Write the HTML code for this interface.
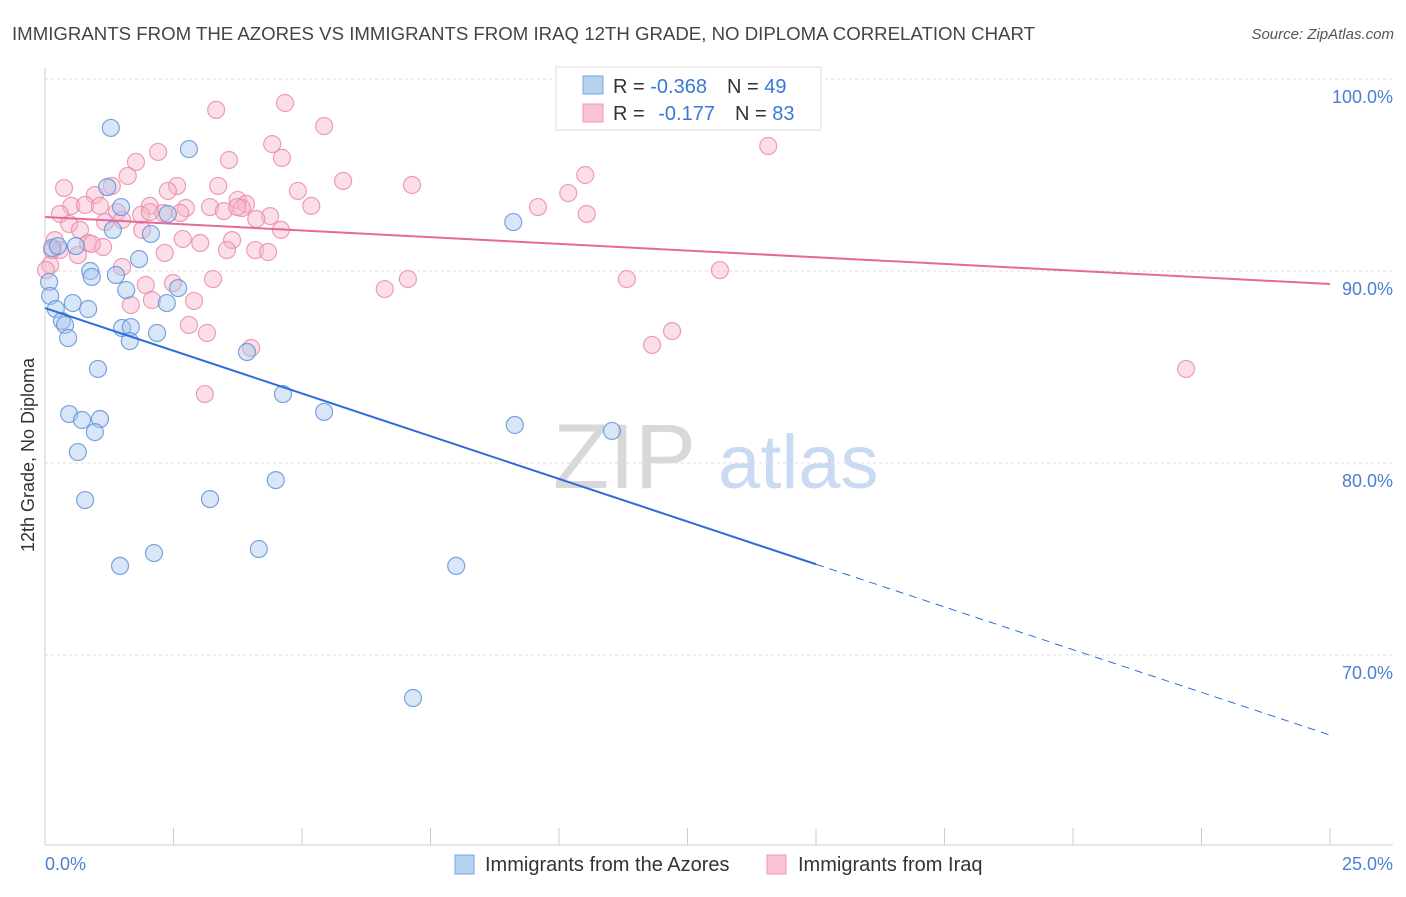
<!DOCTYPE html>
<html><head><meta charset="utf-8"><style>
body{margin:0;background:#fff;font-family:"Liberation Sans",sans-serif}
svg text{font-family:"Liberation Sans",sans-serif}
</style></head><body>
<svg id="chart" width="1406" height="892" xmlns="http://www.w3.org/2000/svg">
<text x="12" y="40" font-size="18.5" fill="#444" textLength="1023" lengthAdjust="spacingAndGlyphs">IMMIGRANTS FROM THE AZORES VS IMMIGRANTS FROM IRAQ 12TH GRADE, NO DIPLOMA CORRELATION CHART</text>
<text x="1394" y="39" font-size="15" fill="#555" font-style="italic" text-anchor="end">Source: ZipAtlas.com</text>
<g>
<text x="553" y="488" font-size="92" fill="#d8d8d8" font-family="Liberation Serif,serif">ZIP</text>
<text x="718" y="488" font-size="76" fill="#c9dbf2">atlas</text>
</g>
<g id="grid"></g>
<g id="axes"></g>
<g id="marks"></g>
<g id="trends"></g>
<text transform="translate(34,455) rotate(-90)" font-size="18" fill="#333" text-anchor="middle">12th Grade, No Diploma</text>
<g>
<rect x="556" y="67" width="265" height="63" fill="#fff" stroke="#ddd"/>
<rect x="583" y="76" width="20" height="18" fill="#b7d1f3" stroke="#7aa6e0"/>
<rect x="583" y="104" width="20" height="18" fill="#f9c3d3" stroke="#ec9bb5"/>
<text x="613" y="93" font-size="20" fill="#333">R = <tspan fill="#3a78d8">-0.368</tspan><tspan dx="20">N = </tspan><tspan fill="#3a78d8">49</tspan></text>
<text x="613" y="120" font-size="20" fill="#333">R = <tspan dx="8" fill="#3a78d8">-0.177</tspan><tspan dx="20">N = </tspan><tspan fill="#3a78d8">83</tspan></text>
</g>
<g>
<rect x="455" y="855" width="19" height="19" fill="#b7d1f3" stroke="#7aa6e0"/>
<text x="485" y="871" font-size="20" fill="#333">Immigrants from the Azores</text>
<rect x="767" y="855" width="19" height="19" fill="#f9c3d3" stroke="#ec9bb5"/>
<text x="798" y="871" font-size="20" fill="#333">Immigrants from Iraq</text>
</g>
</svg>
<script>
const yTicks=[100,90,80,70];
const yTickLabels=["100.0%","90.0%","80.0%","70.0%"];
const xTickValues=[0,2.5,5,7.5,10,12.5,15,17.5,20,22.5,25];
const xEndLabels=["0.0%","25.0%"];
const azoresX=[1.28,2.80,1.21,1.48,2.39,1.32,2.06,9.11,0.14,0.25,0.60,1.83,0.88,0.91,1.38,0.08,0.10,1.58,2.59,2.37,0.54,0.84,0.21,0.33,0.39,0.45,1.50,1.67,2.18,1.65,3.93,1.03,4.63,5.43,0.47,0.72,1.07,0.97,9.14,11.03,0.64,4.49,0.78,3.21,2.12,4.16,1.46,8.00,7.16];
const azoresY=[97.45,96.35,94.37,93.33,92.97,92.14,91.93,92.55,91.20,91.30,91.30,90.62,90.0,89.69,89.79,89.43,88.70,89.01,89.11,88.33,88.33,88.02,88.02,87.40,87.19,86.51,87.03,87.08,86.77,86.35,85.78,84.90,83.59,82.66,82.55,82.24,82.29,81.61,81.98,81.67,80.57,79.11,78.07,78.12,75.31,75.52,74.64,74.64,67.76];
const iraqX=[3.33,4.67,5.43,14.07,4.42,2.20,1.77,4.61,3.58,1.61,10.51,0.37,1.30,2.57,3.37,5.80,7.14,4.92,10.18,0.97,2.39,3.75,3.91,0.51,0.78,1.07,2.04,2.74,3.21,5.18,9.59,0.29,1.40,1.87,2.30,2.63,3.48,3.83,4.38,10.54,1.17,1.50,0.47,4.11,0.68,1.89,4.59,2.68,3.64,0.19,0.84,1.13,3.02,0.29,2.33,3.54,4.09,4.34,0.64,0.10,1.50,13.13,3.27,11.32,7.06,1.96,2.49,6.61,2.08,2.90,1.67,2.80,3.15,12.20,11.81,4.01,3.11,22.20,0.14,0.02,0.91,2.04,3.74];
const iraqY=[98.39,98.75,97.55,96.51,96.61,96.20,95.68,95.89,95.78,94.95,95.0,94.32,94.43,94.43,94.43,94.69,94.48,94.17,94.06,93.96,94.17,93.70,93.49,93.39,93.44,93.39,93.39,93.28,93.33,93.39,93.33,92.97,93.07,92.92,93.02,93.02,93.12,93.28,92.86,92.97,92.55,92.66,92.45,92.71,92.14,92.14,92.14,91.67,91.61,91.61,91.46,91.25,91.46,91.09,90.94,91.09,91.09,90.99,90.83,90.31,90.21,90.05,89.58,89.58,89.58,89.27,89.37,89.06,88.49,88.44,88.23,87.19,86.77,86.87,86.15,85.99,83.59,84.90,91.09,90.05,91.41,93.07,93.33];
const azoresTrend=[88.07,65.83];
const iraqTrend=[92.81,89.32];
const solidEnd=15;

const NS="http://www.w3.org/2000/svg";
const X=v=>45+v/25*1285;
const Y=v=>79+(100-v)*19.2;
function mk(t,a,p){const e=document.createElementNS(NS,t);for(const k in a)e.setAttribute(k,a[k]);p.appendChild(e);return e;}
const grid=document.getElementById('grid'),axes=document.getElementById('axes'),marks=document.getElementById('marks'),trends=document.getElementById('trends');
yTicks.forEach((t,i)=>{
  const l=mk('line',{x1:45,x2:1393,y1:Y(t),y2:Y(t),stroke:'#ddd','stroke-dasharray':'3,3'},grid);
  
  
  const tx=mk('text',{x:1393,y:Y(t)+24,'font-size':18,fill:'#4a7fd4','text-anchor':'end'},axes);
  tx.textContent=yTickLabels[i];
  
  
});
mk('line',{x1:45,x2:45,y1:68,y2:845,stroke:'#ccc'},axes);
mk('line',{x1:45,x2:1393,y1:845,y2:845,stroke:'#ccc'},axes);
xTickValues.forEach(v=>{
  const t=mk('line',{x1:X(v),x2:X(v),y1:828,y2:845,stroke:'#ccc'},axes);
  
  
});
const xl0=mk('text',{x:45,y:870,'font-size':18,fill:'#4a7fd4'},axes);xl0.textContent=xEndLabels[0];


const xl1=mk('text',{x:1393,y:870,'font-size':18,fill:'#4a7fd4','text-anchor':'end'},axes);xl1.textContent=xEndLabels[1];



function pts(xs,ys,fill,stroke,name){
  xs.forEach((x,i)=>{
    const c=mk('circle',{cx:X(x),cy:Y(ys[i]),r:8.5,fill:fill,'fill-opacity':0.45,stroke:stroke,'stroke-width':1.2,'stroke-opacity':0.8},marks);
    
    
  });
}
pts(iraqX,iraqY,'#f6b6ca','#e987a8','iraq-point');
pts(azoresX,azoresY,'#a9c8f0','#5b8fd9','azores-point');

const by=x=>azoresTrend[0]+(azoresTrend[1]-azoresTrend[0])*x/25;
const a1=mk('line',{x1:X(0),y1:Y(by(0)),x2:X(solidEnd),y2:Y(by(solidEnd)),stroke:'#2a6fd6','stroke-width':2},trends);


const a2=mk('line',{x1:X(solidEnd),y1:Y(by(solidEnd)),x2:X(25),y2:Y(by(25)),stroke:'#2a6fd6','stroke-width':1,'stroke-dasharray':'8,6'},trends);


const p1=mk('line',{x1:X(0),y1:Y(iraqTrend[0]),x2:X(25),y2:Y(iraqTrend[1]),stroke:'#e46a96','stroke-width':2},trends);


</script>
</body></html>
